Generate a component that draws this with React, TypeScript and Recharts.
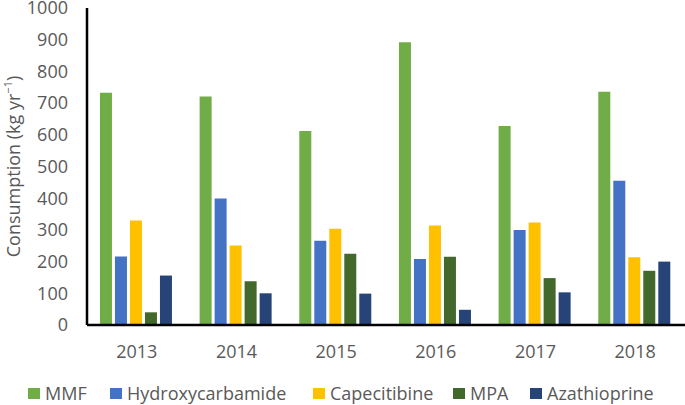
import React from 'react';
import { BarChart, Bar, XAxis, YAxis, Legend, Label } from 'recharts';

const years = ['2013', '2014', '2015', '2016', '2017', '2018'];
const mmf = [733, 721, 612, 892, 628, 736];
const hydroxycarbamide = [216, 399, 266, 208, 300, 455];
const capecitibine = [330, 251, 304, 314, 323, 214];
const mpa = [40, 138, 225, 215, 148, 171];
const azathioprine = [156, 100, 99, 48, 103, 200];
const yTicks = [0, 100, 200, 300, 400, 500, 600, 700, 800, 900, 1000];

const seriesNames = ['MMF', 'Hydroxycarbamide', 'Capecitibine', 'MPA', 'Azathioprine'];
const seriesKeys = ['mmf', 'hydroxycarbamide', 'capecitibine', 'mpa', 'azathioprine'];
const seriesColors = ['#70AD47', '#4472C4', '#FFC000', '#43682B', '#264478'];

const data = years.map((year, i) => ({
  year,
  mmf: mmf[i],
  hydroxycarbamide: hydroxycarbamide[i],
  capecitibine: capecitibine[i],
  mpa: mpa[i],
  azathioprine: azathioprine[i],
}));

const FONT = "'Open Sans', sans-serif";
const GRAY = '#595959';
const legendX = [28, 110, 313, 453, 530];

const renderLegend = () => (
  <div style={{ position: 'relative', width: 685, height: 20 }}>
    {seriesNames.map((name, i) => (
      <div key={name} style={{ position: 'absolute', left: legendX[i], top: 0, height: 20, display: 'flex', alignItems: 'center' }}>
        <span style={{ display: 'inline-block', width: 12, height: 11, background: seriesColors[i], marginRight: 5 }} />
        <span style={{ fontFamily: FONT, fontSize: 18, color: GRAY, lineHeight: '20px', whiteSpace: 'nowrap' }}>{name}</span>
      </div>
    ))}
  </div>
);

const renderYLabel = (props: any) => {
  const vb = props.viewBox || { x: 0, y: 8, width: 87, height: 317 };
  const cx = vb.x + 13;
  const cy = vb.y + vb.height / 2;
  return (
    <text
      x={cx}
      y={cy}
      transform={`rotate(-90, ${cx}, ${cy})`}
      textAnchor="middle"
      dominantBaseline="central"
      fill={GRAY}
      fontFamily={FONT}
      fontSize={18}
    >
      <tspan>Consumption (kg yr</tspan>
      <tspan fontSize={11} dy={-6}>−1</tspan>
      <tspan dy={6}>)</tspan>
    </text>
  );
};

export default function App() {
  return (
    <div style={{ position: 'absolute', left: 0, top: 0, width: 685, height: 405, background: '#fff' }}>
      <BarChart
        width={685}
        height={405}
        data={data}
        margin={{ top: 8, right: 0, left: 0, bottom: 50 }}
        barCategoryGap="13%"
        barGap={3}
      >
        {seriesKeys.map((k, i) => (
          <Bar key={k} dataKey={k} name={seriesNames[i]} fill={seriesColors[i]} isAnimationActive={false} />
        ))}
        <XAxis
          dataKey="year"
          height={30}
          tickLine={false}
          tickSize={0}
          tickMargin={20}
          axisLine={{ stroke: '#000', strokeWidth: 2.5 }}
          tick={{ fill: GRAY, fontSize: 18, fontFamily: FONT }}
          interval={0}
        />
        <YAxis
          width={87}
          domain={[0, 1000]}
          ticks={yTicks}
          interval={0}
          tickLine={false}
          tickSize={0}
          tickMargin={19}
          axisLine={{ stroke: '#000', strokeWidth: 2.5 }}
          tick={{ fill: GRAY, fontSize: 18, fontFamily: FONT }}
        >
          <Label content={renderYLabel} />
        </YAxis>
        <Legend
          layout="horizontal"
          verticalAlign="middle"
          align="center"
          content={renderLegend}
          wrapperStyle={{ top: 383, left: 0, width: 685, height: 20 }}
        />
      </BarChart>
    </div>
  );
}
